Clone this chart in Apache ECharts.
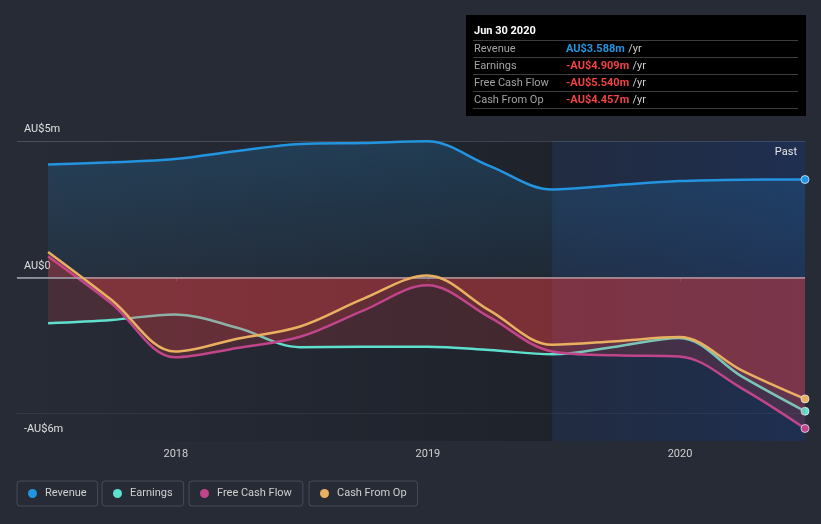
<!DOCTYPE html>
<html><head><meta charset="utf-8">
<script src="https://cdn.jsdelivr.net/npm/echarts@6/dist/echarts.min.js"></script>
<style>html,body{margin:0;padding:0;background:#262b36;}#c{width:821px;height:524px;}</style>
</head><body><div id="c"></div>
<script>
// ---- data (AU$ millions, trailing twelve months) ----
const dates = ['2017-06-30','2017-09-30','2017-12-31','2018-03-31','2018-06-30','2018-09-30','2018-12-31','2019-03-31','2019-06-30','2019-09-30','2019-12-31','2020-03-31','2020-06-30'];
const revenue      = [4.14, 4.22, 4.34, 4.63, 4.89, 4.93, 4.99, 4.09, 3.22, 3.38, 3.53, 3.58, 3.588];
const earnings     = [-1.68, -1.56, -1.36, -1.85, -2.56, -2.54, -2.54, -2.66, -2.82, -2.54, -2.22, -3.64, -4.909];
const freeCashFlow = [0.77, -0.96, -2.93, -2.59, -2.18, -1.21, -0.29, -1.46, -2.72, -2.86, -2.90, -4.08, -5.54];
const cashFromOp   = [0.93, -0.83, -2.72, -2.25, -1.80, -0.78, 0.07, -1.21, -2.47, -2.34, -2.19, -3.42, -4.457];
const seriesNames = ['Revenue', 'Earnings', 'Free Cash Flow', 'Cash From Op'];
const yTickLabels = {'5': 'AU$5m', '0': 'AU$0', '-6': '-AU$6m'};
const xTickYears = [2018, 2019, 2020];
const xMin = '2017-05-16', xMax = '2020-06-30', pastStart = '2019-06-30';
const tooltipTitle = 'Jun 30 2020';
const pastLabel = 'Past';

// ---- styles ----
const colors = ['#2394df', '#5fe0cf', '#c0458a', '#e9b062'];
const FONT = 'Roboto, "Noto Sans", sans-serif';
const negFill = 'rgba(255,68,70,0.235)';

function mk(name, vals, color, areaStyle, z) {
  const last = vals.length - 1;
  return {
    name, type: 'line', z,
    data: dates.map((d, i) => [d, vals[i]]),
    smooth: 0.35,
    symbol: 'circle', showSymbol: true, showAllSymbol: true,
    symbolSize: (v, p) => p.dataIndex === last ? 8 : 0,
    lineStyle: { color, width: 2.5 },
    itemStyle: { color, borderColor: 'rgba(230,240,255,0.75)', borderWidth: 1 },
    areaStyle, emphasis: { disabled: true }, silent: true
  };
}

const chart = echarts.init(document.getElementById('c'), null, { renderer: 'canvas' });

const allVals = [revenue, earnings, freeCashFlow, cashFromOp];
function fmt(v) { return (v < 0 ? '-' : '') + 'AU$' + Math.abs(v).toFixed(3) + 'm'; }

const tipRows = seriesNames.map((n, i) => {
  const v = allVals[i][allVals[i].length - 1];
  return { n, v };
});

const graphic = [
  { type: 'rect', shape: { x: 466, y: 15, width: 340, height: 101 }, style: { fill: '#000' }, z: 100 },
  { type: 'text', x: 474, y: 31.5, style: { text: tooltipTitle, fill: '#fff', font: 'bold 11px ' + FONT, verticalAlign: 'middle' }, z: 101 },
  { type: 'text', right: 24, top: 147, style: { text: pastLabel, fill: '#e6e6e6', font: '11px ' + FONT }, z: 101 }
];
[40.5, 57.5, 74.5, 91.5, 108.5].forEach(y => graphic.push({ type: 'line', shape: { x1: 473, y1: y, x2: 798, y2: y }, style: { stroke: '#3d3d3d', lineWidth: 1 }, z: 101 }));
tipRows.forEach((r, i) => {
  const y = 49 + i * 17;
  graphic.push({ type: 'text', x: 474, y, style: { text: r.n, fill: '#a3a3a3', font: '11px ' + FONT, verticalAlign: 'middle' }, z: 101 });
  graphic.push({ type: 'text', x: 566, y, style: {
    text: '{v|' + fmt(r.v) + '} {u|/yr}', verticalAlign: 'middle',
    rich: { v: { fill: r.v < 0 ? '#f04343' : '#2394df', font: 'bold 11px ' + FONT }, u: { fill: '#cfcfcf', font: '11px ' + FONT } }
  }, z: 101 });
});

const legendLefts = [17, 102, 189, 309];
const legends = seriesNames.map((n, i) => ({
  data: [n], left: legendLefts[i], top: 481, orient: 'horizontal',
  padding: [7, 11, 7, 11], borderColor: '#464c58', borderWidth: 1, borderRadius: 3,
  icon: 'circle', itemWidth: 9, itemHeight: 9,
  itemStyle: { color: colors[i], borderWidth: 0 },
  textStyle: { color: '#d0d0d0', fontSize: 11, fontFamily: FONT, padding: [0, 0, 0, 3] },
  selectedMode: false
}));

const option = {
  backgroundColor: '#262b36',
  animation: false,
  textStyle: { fontFamily: FONT },
  grid: { left: 17, right: 16, top: 141, bottom: 83 },
  legend: legends,
  graphic,
  xAxis: {
    type: 'time', min: xMin, max: xMax,
    minInterval: 365 * 24 * 3600 * 1000, maxInterval: 366 * 24 * 3600 * 1000,
    axisLine: { lineStyle: { color: '#535864', width: 1 } },
    axisTick: { show: true, length: 4, lineStyle: { color: '#535864' } },
    axisLabel: {
      color: '#d0d0d0', fontSize: 11, margin: 8, fontFamily: FONT,
      formatter: v => { const d = new Date(v); return xTickYears.includes(d.getFullYear()) && d.getMonth() === 0 && d.getDate() === 1 ? String(d.getFullYear()) : ''; }
    },
    splitLine: { show: false }
  },
  yAxis: {
    type: 'value', min: -6, max: 5, interval: 1,
    axisLine: { show: false }, axisTick: { show: false },
    axisLabel: {
      inside: true, margin: 7, color: '#e0e0e0', fontSize: 11, fontFamily: FONT,
      verticalAlign: 'bottom', padding: [0, 0, 6, 0],
      formatter: v => yTickLabels[String(v)] || ''
    },
    splitLine: { show: true, lineStyle: { width: 1, color: ['transparent', 'rgba(255,255,255,0.07)', 'transparent', 'transparent', 'transparent', 'transparent', 'transparent', 'transparent', 'transparent', 'transparent', 'transparent', '#4b505b'] } }
  },
  series: [
    { type: 'line', data: [], z: 1, silent: true,
      markArea: { silent: true, data: [[{ xAxis: xMin, itemStyle: { color: new echarts.graphic.LinearGradient(0, 0, 1, 0, [{ offset: 0, color: 'rgba(0,0,0,0)' }, { offset: 1, color: 'rgba(0,0,0,0.2)' }]) } }, { xAxis: pastStart }]] } },
    Object.assign(mk(seriesNames[0], revenue, colors[0], {
      origin: 0,
      color: new echarts.graphic.LinearGradient(0, 0, 0, 1, [{ offset: 0, color: 'rgba(35,148,223,0.3)' }, { offset: 1, color: 'rgba(35,148,223,0.08)' }])
    }, 2), { markLine: { silent: true, symbol: 'none', label: { show: false }, lineStyle: { color: '#a2a6ad', width: 1.5, type: 'solid' }, data: [{ yAxis: 0 }] } }),
    mk(seriesNames[1], earnings, colors[1], { origin: 0, color: negFill }, 3),
    mk(seriesNames[2], freeCashFlow, colors[2], { origin: 0, color: negFill }, 4),
    mk(seriesNames[3], cashFromOp, colors[3], { origin: 0, color: negFill }, 5),
    { type: 'line', data: [], z: 10, silent: true,
      markArea: { silent: true, data: [[{ xAxis: pastStart, itemStyle: { color: new echarts.graphic.LinearGradient(0, 0, 1, 0, [{ offset: 0, color: 'rgba(15,45,110,0.2)' }, { offset: 1, color: 'rgba(15,55,135,0.32)' }]) } }, { xAxis: xMax }]] } }
  ]
};
chart.setOption(option);
</script>
</body></html>
